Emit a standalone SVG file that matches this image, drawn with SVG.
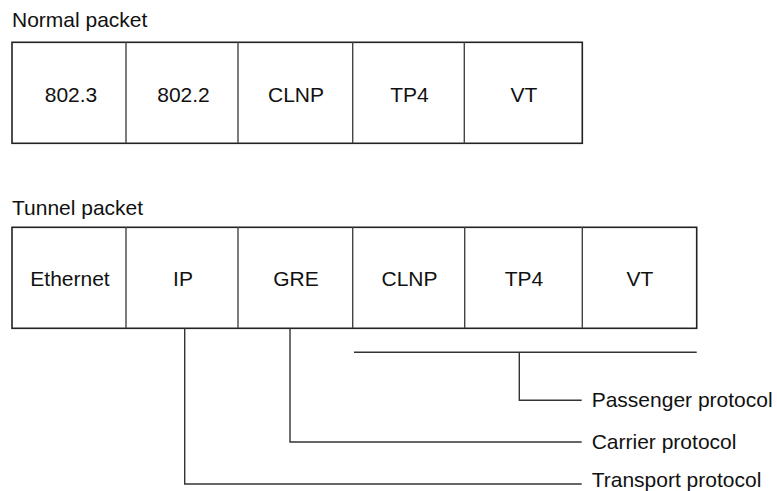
<svg xmlns="http://www.w3.org/2000/svg" width="777" height="491" viewBox="0 0 777 491">
<style>
text{font-family:"Liberation Sans",Arial,sans-serif;font-size:21px;fill:#111}
.c{text-anchor:middle}
.box{fill:#fff;stroke:#222;stroke-width:1.6}
.div{stroke:#444;stroke-width:1.4}
.ln{fill:none;stroke:#333;stroke-width:1.4}
</style>
<rect width="777" height="491" fill="#fff"/>
<text id="title-normal" x="12" y="27">Normal packet</text>
<g id="normal-packet">
<rect class="box" x="12" y="42.3" width="570.3" height="101"/>
<line class="div" x1="126" y1="42.3" x2="126" y2="143.3"/>
<line class="div" x1="238" y1="42.3" x2="238" y2="143.3"/>
<line class="div" x1="352.7" y1="42.3" x2="352.7" y2="143.3"/>
<line class="div" x1="464.3" y1="42.3" x2="464.3" y2="143.3"/>
<g id="n-8023"><text class="c" x="71" y="101.5">802.3</text></g>
<g id="n-8022"><text class="c" x="183.5" y="101.5">802.2</text></g>
<g id="n-clnp"><text class="c" x="296" y="101.5">CLNP</text></g>
<g id="n-tp4"><text class="c" x="409.5" y="101.5">TP4</text></g>
<g id="n-vt"><text class="c" x="524" y="101.5">VT</text></g>
</g>
<text id="title-tunnel" x="12" y="215">Tunnel packet</text>
<g id="tunnel-packet">
<rect class="box" x="12" y="227.3" width="684.7" height="101"/>
<line class="div" x1="126" y1="227.3" x2="126" y2="328.3"/>
<line class="div" x1="238" y1="227.3" x2="238" y2="328.3"/>
<line class="div" x1="352.7" y1="227.3" x2="352.7" y2="328.3"/>
<line class="div" x1="464.7" y1="227.3" x2="464.7" y2="328.3"/>
<line class="div" x1="582.3" y1="227.3" x2="582.3" y2="328.3"/>
<g id="t-eth"><text class="c" x="70" y="286">Ethernet</text></g>
<g id="t-ip"><text class="c" x="183" y="286">IP</text></g>
<g id="t-gre"><text class="c" x="296" y="286">GRE</text></g>
<g id="t-clnp"><text class="c" x="409.5" y="286">CLNP</text></g>
<g id="t-tp4"><text class="c" x="524" y="286">TP4</text></g>
<g id="t-vt"><text class="c" x="640" y="286">VT</text></g>
</g>
<g id="connectors">
<line class="ln" x1="354" y1="352.3" x2="696.7" y2="352.3"/>
<polyline class="ln" points="519.3,352.3 519.3,400.3 581.7,400.3"/>
<polyline class="ln" points="290,328.3 290,442 581.7,442"/>
<polyline class="ln" points="184.7,328.3 184.7,484 581.7,484"/>
</g>
<g id="label-passenger"><text x="591.7" y="406.8">Passenger protocol</text></g>
<g id="label-carrier"><text x="591.7" y="448.5">Carrier protocol</text></g>
<g id="label-transport"><text x="591.7" y="487">Transport protocol</text></g>
</svg>
